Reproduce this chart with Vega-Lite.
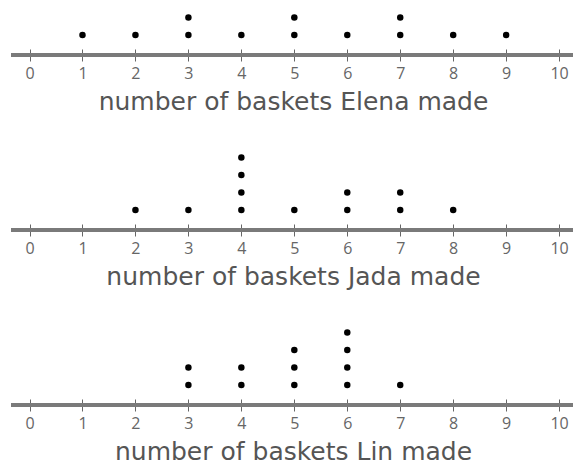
{
  "$schema": "https://vega.github.io/schema/vega-lite/v6.json",
  "padding": {"left": 9, "top": 0, "right": 0, "bottom": 0},
  "background": "white",
  "spacing": 30,
  "config": {
    "view": {"stroke": null},
    "font": "Open Sans",
    "axis": {"labelFont": "Open Sans", "titleFont": "DejaVu Sans"}
  },
  "datasets": {
    "baskets": [
      {"player": "Elena", "baskets": 1}, {"player": "Elena", "baskets": 2}, {"player": "Elena", "baskets": 3}, {"player": "Elena", "baskets": 3},
      {"player": "Elena", "baskets": 4}, {"player": "Elena", "baskets": 5}, {"player": "Elena", "baskets": 5}, {"player": "Elena", "baskets": 6},
      {"player": "Elena", "baskets": 7}, {"player": "Elena", "baskets": 7}, {"player": "Elena", "baskets": 8}, {"player": "Elena", "baskets": 9},
      {"player": "Jada", "baskets": 2}, {"player": "Jada", "baskets": 3}, {"player": "Jada", "baskets": 4}, {"player": "Jada", "baskets": 4},
      {"player": "Jada", "baskets": 4}, {"player": "Jada", "baskets": 4}, {"player": "Jada", "baskets": 5}, {"player": "Jada", "baskets": 6},
      {"player": "Jada", "baskets": 6}, {"player": "Jada", "baskets": 7}, {"player": "Jada", "baskets": 7}, {"player": "Jada", "baskets": 8},
      {"player": "Lin", "baskets": 3}, {"player": "Lin", "baskets": 3}, {"player": "Lin", "baskets": 4}, {"player": "Lin", "baskets": 4},
      {"player": "Lin", "baskets": 5}, {"player": "Lin", "baskets": 5}, {"player": "Lin", "baskets": 5}, {"player": "Lin", "baskets": 6},
      {"player": "Lin", "baskets": 6}, {"player": "Lin", "baskets": 6}, {"player": "Lin", "baskets": 6}, {"player": "Lin", "baskets": 7}
    ]
  },
  "vconcat": [
    {
      "width": 564, "height": 49,
      "data": {"name": "baskets"},
      "transform": [
        {"filter": "datum.player === 'Elena'"},
        {"window": [{"op": "row_number", "as": "level"}], "groupby": ["baskets"]}
      ],
      "layer": [
        {"mark": {"type": "rule", "color": "#7a7a7a", "strokeWidth": 3}, "encoding": {"y": {"datum": -0.143, "type": "quantitative", "scale": {"domain": [0.2, 3.0], "nice": false, "zero": false}, "axis": null}}},
        {
          "mark": {"type": "circle", "color": "black", "opacity": 1, "size": 42},
          "encoding": {
            "x": {"field": "baskets", "type": "quantitative", "scale": {"domain": [-0.35, 10.3], "nice": false, "zero": false},
              "axis": {"values": [0,1,2,3,4,5,6,7,8,9,10], "domain": false, "grid": false, "tickSize": 12, "tickColor": "#666666", "tickWidth": 1,
                "labelFontSize": 16, "labelColor": "#666666", "labelPadding": 4, "labelFlush": false,
                "title": "number of baskets Elena made", "titleFontSize": 25, "titleFontWeight": "normal", "titleColor": "#555555", "titlePadding": 8}},
            "y": {"field": "level", "type": "quantitative", "scale": {"domain": [0.2, 3.0], "nice": false, "zero": false}, "axis": null}
          }
        }
      ]
    },
    {
      "width": 564, "height": 80,
      "data": {"name": "baskets"},
      "transform": [
        {"filter": "datum.player === 'Jada'"},
        {"window": [{"op": "row_number", "as": "level"}], "groupby": ["baskets"]}
      ],
      "layer": [
        {"mark": {"type": "rule", "color": "#7a7a7a", "strokeWidth": 3}, "encoding": {"y": {"datum": -0.143, "type": "quantitative", "scale": {"domain": [0.2, 4.771], "nice": false, "zero": false}, "axis": null}}},
        {
          "mark": {"type": "circle", "color": "black", "opacity": 1, "size": 42},
          "encoding": {
            "x": {"field": "baskets", "type": "quantitative", "scale": {"domain": [-0.35, 10.3], "nice": false, "zero": false},
              "axis": {"values": [0,1,2,3,4,5,6,7,8,9,10], "domain": false, "grid": false, "tickSize": 12, "tickColor": "#666666", "tickWidth": 1,
                "labelFontSize": 16, "labelColor": "#666666", "labelPadding": 4, "labelFlush": false,
                "title": "number of baskets Jada made", "titleFontSize": 25, "titleFontWeight": "normal", "titleColor": "#555555", "titlePadding": 8}},
            "y": {"field": "level", "type": "quantitative", "scale": {"domain": [0.2, 4.771], "nice": false, "zero": false}, "axis": null}
          }
        }
      ]
    },
    {
      "width": 564, "height": 80,
      "data": {"name": "baskets"},
      "transform": [
        {"filter": "datum.player === 'Lin'"},
        {"window": [{"op": "row_number", "as": "level"}], "groupby": ["baskets"]}
      ],
      "layer": [
        {"mark": {"type": "rule", "color": "#7a7a7a", "strokeWidth": 3}, "encoding": {"y": {"datum": -0.143, "type": "quantitative", "scale": {"domain": [0.2, 4.771], "nice": false, "zero": false}, "axis": null}}},
        {
          "mark": {"type": "circle", "color": "black", "opacity": 1, "size": 42},
          "encoding": {
            "x": {"field": "baskets", "type": "quantitative", "scale": {"domain": [-0.35, 10.3], "nice": false, "zero": false},
              "axis": {"values": [0,1,2,3,4,5,6,7,8,9,10], "domain": false, "grid": false, "tickSize": 12, "tickColor": "#666666", "tickWidth": 1,
                "labelFontSize": 16, "labelColor": "#666666", "labelPadding": 4, "labelFlush": false,
                "title": "number of baskets Lin made", "titleFontSize": 25, "titleFontWeight": "normal", "titleColor": "#555555", "titlePadding": 8}},
            "y": {"field": "level", "type": "quantitative", "scale": {"domain": [0.2, 4.771], "nice": false, "zero": false}, "axis": null}
          }
        }
      ]
    }
  ]
}
